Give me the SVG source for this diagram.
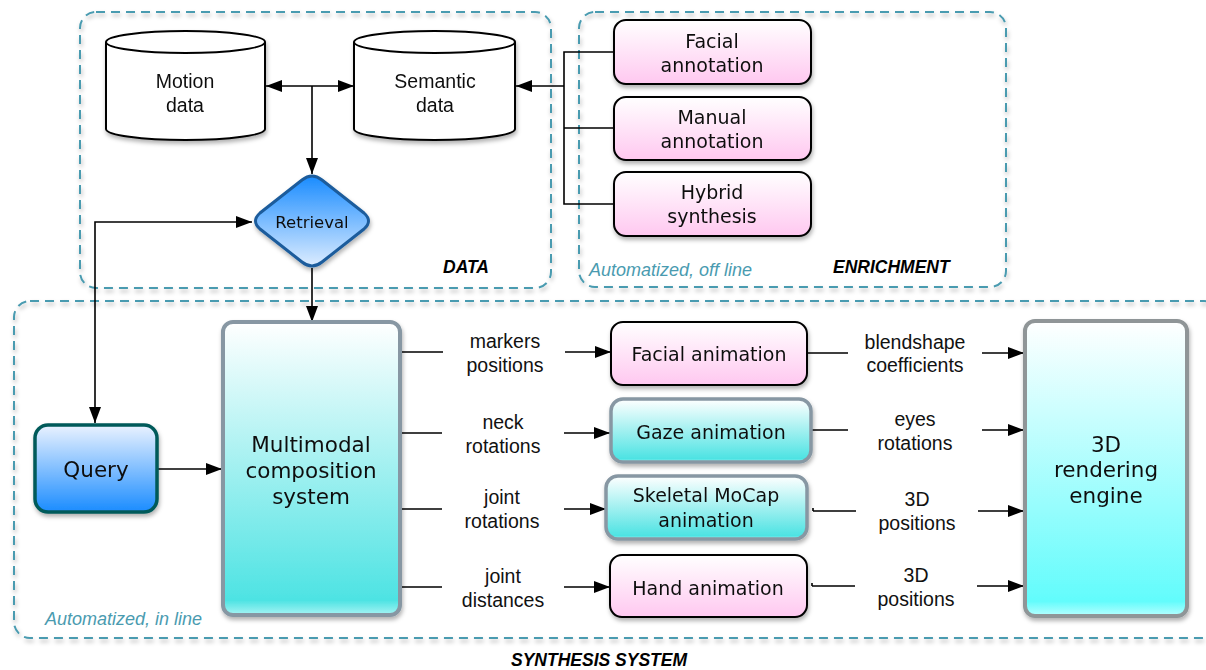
<svg xmlns="http://www.w3.org/2000/svg" width="1206" height="670" viewBox="0 0 1206 670">
<defs>
<style>
.grp{fill:none;stroke:#4a9bb0;stroke-width:2;stroke-dasharray:9,6}
.lbl{font-family:"Liberation Sans",Arial,sans-serif;font-size:19.5px;fill:#111;text-anchor:middle}
.box{font-family:"DejaVu Sans","Noto Sans",sans-serif;font-size:19px;fill:#111;text-anchor:middle}
.big{font-family:"DejaVu Sans","Noto Sans",sans-serif;font-size:21.5px;fill:#111;text-anchor:middle}
.ttl{font-family:"Liberation Sans",Arial,sans-serif;font-size:17.5px;font-weight:bold;font-style:italic;fill:#000}
.note{font-family:"Liberation Sans",Arial,sans-serif;font-size:18px;font-style:italic;fill:#4a9bb0}
.c{fill:none;stroke:#000;stroke-width:1.6}
.pink{fill:url(#gPink);stroke:#000;stroke-width:2}
.cyan{fill:url(#gCyan);stroke:#8797a3;stroke-width:4}
.cyl{fill:#fff;stroke:#000;stroke-width:2}
</style>
<linearGradient id="gPink" x1="0" y1="0" x2="0" y2="1"><stop offset="0" stop-color="#fff"/><stop offset="1" stop-color="#ffc8f0"/></linearGradient>
<linearGradient id="gCyan" x1="0" y1="0" x2="0" y2="1"><stop offset="0" stop-color="#fff"/><stop offset="0.95" stop-color="#4de3e3"/><stop offset="1" stop-color="#a8f4f4"/></linearGradient>
<linearGradient id="gCyan2" x1="0" y1="0" x2="0" y2="1"><stop offset="0" stop-color="#fff"/><stop offset="0.95" stop-color="#62fcfc"/><stop offset="1" stop-color="#b8ffff"/></linearGradient>
<linearGradient id="gBlue" x1="0" y1="0" x2="0" y2="1"><stop offset="0" stop-color="#eaf2ff"/><stop offset="1" stop-color="#1a8cff"/></linearGradient>
<linearGradient id="gBlueR" x1="0" y1="0" x2="0" y2="1"><stop offset="0" stop-color="#1a8cff"/><stop offset="1" stop-color="#dcecff"/></linearGradient>
<filter id="sh" x="-10%" y="-10%" width="130%" height="130%"><feDropShadow dx="1" dy="3" stdDeviation="2" flood-color="#000" flood-opacity="0.3"/></filter>
<marker id="arB" viewBox="0 0 16 12" refX="16" refY="6" markerWidth="16" markerHeight="12" markerUnits="userSpaceOnUse" orient="auto-start-reverse"><path d="M0,0 L16,6 L0,12 z" fill="#000"/></marker>
</defs>
<rect width="1206" height="670" fill="#fff"/>

<g id="groups">
<rect class="grp" x="80" y="12" width="471" height="276" rx="16" filter="url(#sh)"/>
<rect class="grp" x="579" y="12" width="427" height="275" rx="16" filter="url(#sh)"/>
<rect class="grp" x="14" y="301" width="1206" height="337" rx="16" filter="url(#sh)"/>
<text class="ttl" x="443" y="273">DATA</text>
<text class="ttl" x="833" y="273">ENRICHMENT</text>
<text class="note" x="589" y="276">Automatized, off line</text>
<text class="note" x="45" y="625">Automatized, in line</text>
<text class="ttl" x="599" y="666" text-anchor="middle">SYNTHESIS SYSTEM</text>
</g>

<g id="connectors">
<path class="c" d="M266,86 H354" marker-start="url(#arB)" marker-end="url(#arB)"/>
<path class="c" d="M312,86 V174" marker-end="url(#arB)"/>
<path class="c" d="M564,86 H516" marker-end="url(#arB)"/>
<path class="c" d="M614,52 H564 V204 H614 M564,128 H614"/>
<path class="c" d="M95,423 V222 H252" marker-start="url(#arB)" marker-end="url(#arB)"/>
<path class="c" d="M312,268 V322" marker-end="url(#arB)"/>
<path class="c" d="M157,469 H222" marker-end="url(#arB)"/>
<path class="c" d="M400,352 H443 M565,352 H611" marker-end="url(#arB)"/>
<path class="c" d="M400,433 H442 M564,433 H610" marker-end="url(#arB)"/>
<path class="c" d="M400,509 H442 M564,509 H606" marker-end="url(#arB)"/>
<path class="c" d="M400,587 H442 M564,587 H610" marker-end="url(#arB)"/>
<path class="c" d="M807,353 H848 M982,353 H1024" marker-end="url(#arB)"/>
<path class="c" d="M811,430 H848 M982,430 H1024" marker-end="url(#arB)"/>
<path class="c" d="M813,511 H856 M978,511 H1024" marker-end="url(#arB)"/>
<path class="c" d="M812,586 H855 M977,586 H1024" marker-end="url(#arB)"/>
<path class="c" d="M813,508 V511 M812,583 V586"/>
</g>

<g id="labels">
<text class="lbl" x="505" y="348">markers</text><text class="lbl" x="505" y="372">positions</text>
<text class="lbl" x="503" y="429">neck</text><text class="lbl" x="503" y="453">rotations</text>
<text class="lbl" x="502" y="504">joint</text><text class="lbl" x="502" y="528">rotations</text>
<text class="lbl" x="503" y="583">joint</text><text class="lbl" x="503" y="607">distances</text>
<text class="lbl" x="915" y="349">blendshape</text><text class="lbl" x="915" y="372">coefficients</text>
<text class="lbl" x="915" y="426">eyes</text><text class="lbl" x="915" y="450">rotations</text>
<text class="lbl" x="917" y="506">3D</text><text class="lbl" x="917" y="530">positions</text>
<text class="lbl" x="916" y="582">3D</text><text class="lbl" x="916" y="606">positions</text>
</g>

<g id="motion-data" filter="url(#sh)">
<path class="cyl" d="M106,42 V129 A79.5,11 0 0 0 265,129 V42"/>
<ellipse class="cyl" cx="185.5" cy="42" rx="79.5" ry="11"/>
<text class="lbl" x="185" y="88">Motion</text><text class="lbl" x="185" y="112">data</text>
</g>
<g id="semantic-data" filter="url(#sh)">
<path class="cyl" d="M354,42 V129 A80.5,11 0 0 0 515,129 V42"/>
<ellipse class="cyl" cx="434.5" cy="42" rx="80.5" ry="11"/>
<text class="lbl" x="435" y="88">Semantic</text><text class="lbl" x="435" y="112">data</text>
</g>

<g id="retrieval" filter="url(#sh)">
<path d="M302,180 Q312,172 322,180 L364,213 Q373,221 364,229 L322,262 Q312,270 302,262 L260,229 Q251,221 260,213 Z" fill="url(#gBlueR)" stroke="#1b5c9c" stroke-width="3"/>
<text class="box" x="312" y="228" style="font-size:16.5px">Retrieval</text>
</g>

<g id="facial-annotation" filter="url(#sh)">
<rect class="pink" x="614" y="20" width="197" height="64" rx="12"/>
<text class="box" x="712" y="48">Facial</text><text class="box" x="712" y="72">annotation</text>
</g>
<g id="manual-annotation" filter="url(#sh)">
<rect class="pink" x="614" y="97" width="197" height="63" rx="12"/>
<text class="box" x="712" y="124">Manual</text><text class="box" x="712" y="148">annotation</text>
</g>
<g id="hybrid-synthesis" filter="url(#sh)">
<rect class="pink" x="614" y="172" width="197" height="64" rx="12"/>
<text class="box" x="712" y="199">Hybrid</text><text class="box" x="712" y="223">synthesis</text>
</g>

<g id="query" filter="url(#sh)">
<rect x="35" y="425" width="122" height="87" rx="13" fill="url(#gBlue)" stroke="#015a5a" stroke-width="3.5"/>
<text class="big" x="96" y="477">Query</text>
</g>

<g id="multimodal" filter="url(#sh)">
<rect class="cyan" x="223" y="322" width="177" height="293" rx="10"/>
<text class="big" x="311" y="452">Multimodal</text><text class="big" x="311" y="478">composition</text><text class="big" x="311" y="504">system</text>
</g>

<g id="facial-animation" filter="url(#sh)">
<rect class="pink" x="611" y="322" width="196" height="63" rx="12"/>
<text class="box" x="709" y="361">Facial animation</text>
</g>
<g id="gaze-animation" filter="url(#sh)">
<rect class="cyan" x="611" y="399" width="200" height="63" rx="12" style="stroke-width:3.5"/>
<text class="box" x="711" y="439">Gaze animation</text>
</g>
<g id="skeletal-animation" filter="url(#sh)">
<rect class="cyan" x="606" y="476" width="201" height="63" rx="12" style="stroke-width:3.5"/>
<text class="box" x="706" y="502">Skeletal MoCap</text><text class="box" x="706" y="527">animation</text>
</g>
<g id="hand-animation" filter="url(#sh)">
<rect class="pink" x="610" y="555" width="197" height="62" rx="12"/>
<text class="box" x="708" y="595">Hand animation</text>
</g>

<g id="rendering-engine" filter="url(#sh)">
<rect x="1025" y="321" width="162" height="295" rx="10" fill="url(#gCyan2)" stroke="#8f9597" stroke-width="4"/>
<text class="big" x="1106" y="452">3D</text><text class="big" x="1106" y="477">rendering</text><text class="big" x="1106" y="503">engine</text>
</g>
</svg>
